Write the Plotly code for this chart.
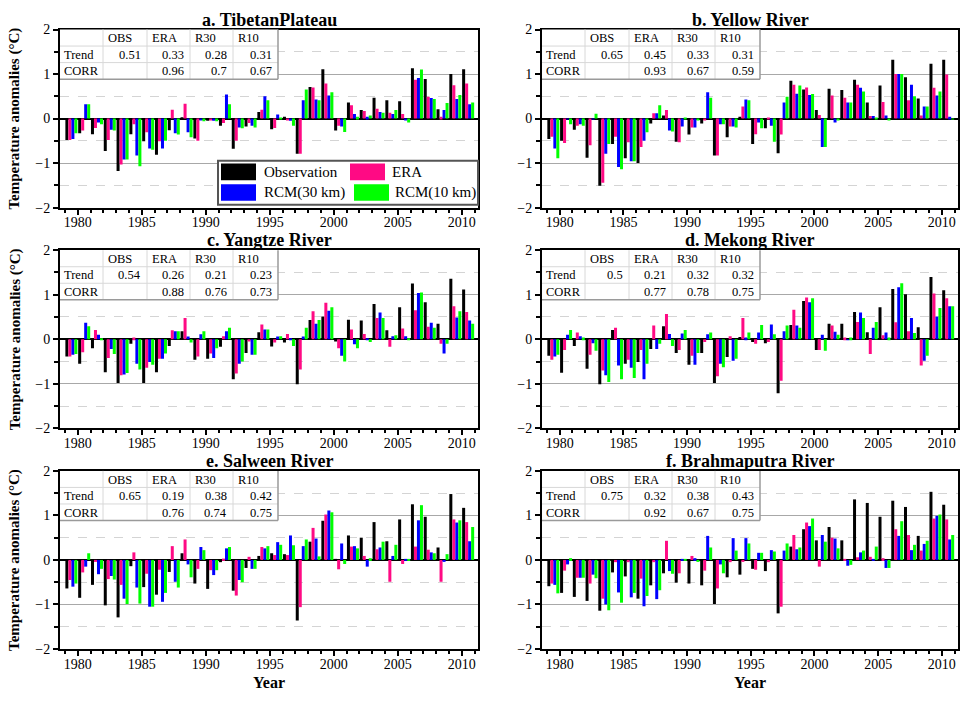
import plotly.graph_objects as go

W, H = 966, 703
years = list(range(1979, 2011))

series_names = ["Observation", "ERA", "RCM(30 km)", "RCM(10 km)"]
series_colors = ["#000000", "#FF0A84", "#0000FF", "#00FF00"]
panel_titles = ["a. TibetanPlateau", "b. Yellow River", "c. Yangtze River",
                "d. Mekong River", "e. Salween River", "f. Brahmaputra River"]
table_cols = ["OBS", "ERA", "R30", "R10"]

# ---- a. Tibetan Plateau ----
a_obs = [-0.48, -0.33, -0.35, -0.73, -1.18, -0.35, -0.51, -0.81, -0.26, 0.03, -0.45, -0.05, -0.16, -0.68, -0.18, 0.15,
         -0.24, 0.04, -0.79, 0.71, 1.11, -0.27, 0.36, 0.19, 0.47, 0.41, 0.39, 1.13, 0.89, 0.21, 1.00, 1.11]
a_era = [-0.48, -0.27, -0.21, -0.48, -1.03, -0.13, -0.31, -0.51, 0.20, 0.33, -0.50, -0.03, -0.10, -0.50, -0.10, 0.20,
         -0.21, -0.03, -0.79, 0.70, 0.79, -0.16, 0.30, 0.17, 0.22, 0.13, 0.10, 0.87, 0.49, 0.04, 0.75, 0.79]
a_r30 = [-0.46, 0.32, -0.09, -0.25, -0.92, -0.83, -0.67, -0.67, -0.33, -0.31, -0.04, -0.05, 0.54, -0.20, -0.16, 0.50,
         0.09, -0.05, 0.41, 0.43, 0.52, -0.18, 0.10, 0.04, 0.15, 0.10, -0.04, 0.91, 0.46, 0.19, 0.44, 0.32]
a_r10 = [-0.33, 0.32, -0.13, -0.27, -0.92, -1.07, -0.70, -0.50, -0.36, -0.42, -0.06, -0.06, 0.32, -0.22, -0.20, 0.41,
         0.02, -0.16, 0.65, 0.41, 0.59, -0.30, 0.04, 0.07, 0.13, 0.19, -0.09, 1.10, 0.44, 0.35, 0.53, 0.36]
a_trend = [0.51, 0.33, 0.28, 0.31]
a_corr = [None, 0.96, 0.7, 0.67]

# ---- b. Yellow River ----
b_obs = [-0.46, -0.50, -0.25, -0.88, -1.51, -0.57, -0.89, -1.00, -0.11, 0.07, -0.52, -0.36, -0.11, -0.83, -0.42, 0.04,
         -0.57, -0.22, -0.78, 0.85, 0.65, 0.19, 0.67, 0.64, 0.87, 0.36, 0.74, 1.32, 0.93, 0.45, 1.23, 1.32]
b_era = [-0.41, -0.55, -0.16, -0.60, -1.44, -0.41, -0.53, -0.64, 0.12, 0.19, -0.53, -0.20, -0.03, -0.83, -0.18, 0.27,
         -0.35, 0.02, -0.36, 0.76, 0.70, 0.08, 0.52, 0.47, 0.76, 0.06, 0.37, 1.00, 0.41, 0.07, 0.69, 0.99]
b_r30 = [-0.67, -0.02, -0.13, -0.02, -0.79, -1.09, -0.96, -0.50, 0.12, -0.27, -0.18, -0.20, 0.59, -0.13, -0.18, 0.43,
         -0.09, -0.16, 0.36, 0.56, 0.53, -0.64, -0.09, 0.36, 0.69, 0.06, 0.07, 1.00, 0.76, 0.27, 0.52, 0.04]
b_r10 = [-0.89, -0.13, -0.16, 0.11, -0.57, -1.14, -0.96, -0.31, 0.30, -0.29, 0.02, -0.04, 0.47, -0.13, -0.20, 0.41,
         -0.22, -0.52, 0.49, 0.74, 0.55, -0.64, -0.03, 0.36, 0.61, 0.02, -0.04, 1.00, 0.50, 0.27, 0.61, -0.01]
b_trend = [0.65, 0.45, 0.33, 0.31]
b_corr = [None, 0.93, 0.67, 0.59]

# ---- c. Yangtze River ----
c_obs = [-0.39, -0.55, -0.20, -0.74, -0.98, -0.10, -0.98, -0.74, -0.15, 0.18, -0.46, -0.44, -0.17, -0.90, -0.31, 0.16,
         -0.16, -0.07, -1.01, 0.43, 0.51, -0.05, 0.44, 0.42, 0.79, 0.20, 0.72, 1.25, 0.83, 0.35, 1.36, 1.12]
c_era = [-0.39, -0.29, 0.21, -0.42, -0.81, 0.04, -0.64, -0.44, 0.20, 0.48, -0.39, -0.32, 0.07, -0.77, -0.05, 0.33,
         -0.07, 0.12, -0.68, 0.63, 0.82, -0.20, 0.22, 0.12, 0.48, -0.17, 0.24, 0.65, 0.28, -0.10, 0.74, 0.61]
c_r30 = [-0.35, 0.37, 0.10, -0.22, -0.79, -0.55, -0.51, -0.44, 0.18, 0.06, 0.11, -0.42, 0.18, -0.55, -0.35, 0.22,
         0.06, 0.01, 0.06, 0.35, 0.64, -0.37, -0.11, 0.01, 0.60, 0.07, 0.07, 1.04, 0.37, -0.32, 0.49, 0.42]
c_r10 = [-0.33, 0.29, 0.01, -0.33, -0.76, -0.68, -0.57, -0.32, 0.18, -0.07, 0.18, -0.20, 0.26, -0.50, -0.35, 0.22,
         0.07, -0.15, 0.26, 0.43, 0.72, -0.50, -0.20, -0.06, 0.48, 0.09, 0.01, 1.05, 0.26, -0.10, 0.63, 0.35]
c_trend = [0.54, 0.26, 0.21, 0.23]
c_corr = [None, 0.88, 0.76, 0.73]

# ---- d. Mekong River ----
d_obs = [-0.37, -0.75, -0.15, -0.66, -1.01, 0.21, -0.55, -0.51, -0.22, 0.29, -0.31, -0.57, -0.31, -0.98, -0.40, 0.05,
         -0.06, -0.09, -1.21, 0.32, 0.86, -0.24, 0.35, 0.35, 0.61, 0.16, 0.72, 1.13, 1.01, 0.27, 1.40, 1.10]
d_era = [-0.46, -0.24, 0.15, -0.35, -0.70, 0.26, -0.46, -0.24, 0.31, 0.57, -0.24, -0.37, -0.06, -0.83, 0.07, 0.48,
         -0.10, -0.06, -0.93, 0.66, 0.94, -0.24, 0.31, 0.04, 0.39, -0.33, 0.09, 0.38, 0.18, -0.59, 1.03, 0.92]
d_r30 = [-0.39, 0.10, 0.07, -0.09, -0.81, -0.59, -0.64, -0.90, -0.22, 0.12, 0.13, -0.57, 0.11, -0.55, -0.48, 0.04,
         0.15, 0.33, 0.18, 0.31, 0.83, 0.10, 0.17, -0.02, 0.60, 0.26, 0.15, 1.17, 0.48, -0.48, 0.51, 0.74]
d_r10 = [-0.35, 0.21, 0.04, -0.26, -0.96, -0.90, -0.87, -0.55, -0.10, -0.15, 0.21, -0.31, 0.15, -0.63, -0.44, 0.15,
         0.32, 0.11, 0.31, 0.26, 0.92, -0.26, 0.10, 0.04, 0.48, 0.39, 0.04, 1.26, 0.14, -0.37, 0.70, 0.74]
d_trend = [0.5, 0.21, 0.32, 0.32]
d_corr = [None, 0.77, 0.78, 0.75]

# ---- e. Salween River ----
e_obs = [-0.64, -0.85, -0.56, -1.02, -1.29, -0.14, -0.61, -0.78, -0.27, 0.15, -0.53, -0.65, -0.05, -0.69, -0.18, 0.09,
         0.15, 0.13, -1.36, 0.41, 0.88, 0.02, 0.55, 0.50, 0.85, 0.42, 0.91, 1.25, 0.97, 0.28, 1.48, 1.17]
e_era = [-0.45, -0.28, -0.03, -0.43, -0.56, 0.17, -0.31, -0.22, 0.31, 0.46, -0.20, -0.23, 0.03, -0.80, 0.07, 0.29,
         0.11, 0.11, -1.06, 0.72, 1.02, -0.21, 0.30, 0.09, 0.24, -0.49, -0.09, 0.30, 0.23, -0.49, 0.91, 0.85]
e_r30 = [-0.60, -0.15, -0.32, -0.36, -0.87, -0.62, -1.05, -0.94, -0.49, -0.10, 0.29, -0.34, 0.26, -0.45, -0.20, 0.26,
         0.40, 0.55, 0.31, 0.48, 1.11, 0.37, 0.31, -0.15, 0.28, 0.09, 0.02, 0.89, 0.17, -0.04, 0.84, 0.42]
e_r10 = [-0.53, 0.15, -0.20, -0.44, -0.99, -0.98, -1.05, -0.74, -0.62, -0.39, 0.22, -0.23, 0.29, -0.50, -0.20, 0.31,
         0.34, 0.33, 0.46, 0.08, 1.07, -0.09, 0.26, 0.04, 0.41, 0.34, 0.02, 1.23, 0.15, 0.13, 0.89, 0.74]
e_trend = [0.65, 0.19, 0.38, 0.42]
e_corr = [None, 0.76, 0.74, 0.75]

# ---- f. Brahmaputra River ----
f_obs = [-0.59, -0.74, -0.83, -0.92, -1.14, -0.28, -0.37, -0.87, -0.57, -0.30, -0.51, -0.53, -0.57, -0.99, -0.39, -0.33,
         -0.20, -0.25, -1.20, 0.30, 0.69, 0.44, 0.74, 0.44, 1.36, 1.28, 0.97, 1.33, 1.19, 0.54, 1.53, 1.24]
f_era = [-0.53, -0.24, -0.40, -0.53, -0.87, -0.05, -0.05, -0.42, -0.05, 0.43, -0.30, 0.09, -0.24, -0.64, -0.05, -0.04,
         -0.22, -0.05, -1.05, 0.56, 0.84, -0.15, 0.50, 0.02, 0.06, 0.07, 0.04, 0.69, 0.56, 0.21, 0.93, 0.91]
f_r30 = [-0.56, -0.10, -0.40, -0.33, -1.00, -0.73, -0.84, -1.04, -0.88, -0.25, 0.02, 0.04, 0.54, -0.10, 0.49, 0.49,
         0.16, 0.22, 0.21, 0.24, 0.76, 0.56, 0.48, -0.13, 0.17, 0.01, -0.18, 0.54, 0.22, 0.36, 0.99, 0.46]
f_r10 = [-0.75, 0.04, -0.40, -0.41, -1.13, -0.96, -0.74, -0.81, -0.68, -0.31, 0.02, -0.04, 0.28, -0.30, 0.21, 0.37,
         0.16, 0.19, 0.37, 0.28, 0.93, 0.41, 0.26, -0.11, 0.21, 0.30, -0.18, 0.87, 0.34, 0.43, 1.02, 0.56]
f_trend = [0.75, 0.32, 0.38, 0.43]
f_corr = [None, 0.92, 0.67, 0.75]

panels = [
    ([a_obs, a_era, a_r30, a_r10], a_trend, a_corr),
    ([b_obs, b_era, b_r30, b_r10], b_trend, b_corr),
    ([c_obs, c_era, c_r30, c_r10], c_trend, c_corr),
    ([d_obs, d_era, d_r30, d_r10], d_trend, d_corr),
    ([e_obs, e_era, e_r30, e_r10], e_trend, e_corr),
    ([f_obs, f_era, f_r30, f_r10], f_trend, f_corr),
]

FONT = "Liberation Serif"
cols_px = [(60, 478), (542, 958)]
rows_px = [(23, 205), (248.5, 430.5), (474, 656)]
# annual means are placed at mid-year (as in the original figure)
bar_x = [y + 0.5 for y in years]
XMIN, XMAX = 1978.61, 2011.27


def px(x):
    return x / W


def py(y):
    return 1 - y / H


fig = go.Figure()
shapes = []
annotations = []

for i, (vals, trend, corr) in enumerate(panels):
    r, c = divmod(i, 2)
    xl, xr = cols_px[c]
    yt, yb = rows_px[r]
    sfx = "" if i == 0 else str(i + 1)
    for name, col, v in zip(series_names, series_colors, vals):
        fig.add_trace(go.Bar(x=bar_x, y=v, name=name, marker=dict(color=col, line=dict(width=0)),
                             xaxis="x" + sfx, yaxis="y" + sfx, showlegend=False))
    fig.layout["xaxis" + sfx] = dict(
        domain=[px(xl), px(xr)], anchor="y" + sfx, range=[XMIN, XMAX],
        tickmode="linear", tick0=1980, dtick=5, ticks="outside", ticklen=5, tickwidth=1.5,
        tickcolor="black", minor=dict(tick0=1980, dtick=1, ticks="outside", ticklen=3, tickcolor="black"),
        showline=True, linecolor="black", linewidth=2, mirror=True, showgrid=False, zeroline=False,
        ticklabelstandoff=-4,
        tickfont=dict(family=FONT, size=14, color="black"))
    fig.layout["yaxis" + sfx] = dict(
        domain=[py(yb), py(yt)], anchor="x" + sfx, range=[-2, 2],
        tickmode="linear", tick0=0, dtick=1, ticks="outside", ticklen=5, tickwidth=1.5, tickcolor="black",
        showgrid=True, gridcolor="#a8a8a8", gridwidth=1,
        minor=dict(tick0=0, dtick=0.5, ticks="outside", ticklen=4, tickcolor="black",
                   showgrid=True, gridcolor="#d4d4d4", griddash="dash", gridwidth=1),
        zeroline=True, zerolinecolor="black", zerolinewidth=2,
        showline=True, linecolor="black", linewidth=2, mirror=True,
        tickfont=dict(family=FONT, size=14, color="black"))

    # panel title
    annotations.append(dict(text="<b>%s</b>" % panel_titles[i], x=px((xl + xr) / 2), y=py(yt - 10),
                            xref="paper", yref="paper", showarrow=False, xanchor="center", yanchor="middle",
                            font=dict(family=FONT, size=18, color="black")))

    # statistics table
    tx = [xl, xl + 43, xl + 87, xl + 130, xl + 173, xl + 218]
    rh = 16.9
    ty = [yt, yt + rh, yt + 2 * rh, yt + 3 * rh]
    shapes.append(dict(type="rect", xref="paper", yref="paper", x0=px(tx[0]), x1=px(tx[-1]),
                       y0=py(ty[-1]), y1=py(ty[0]), fillcolor="white", line=dict(width=0), layer="above"))
    for k in range(1, 5):
        shapes.append(dict(type="line", xref="paper", yref="paper", x0=px(tx[k]), x1=px(tx[k]),
                           y0=py(ty[0]), y1=py(ty[-1]), line=dict(color="#d8d8d8", width=1), layer="above"))
    for k in range(1, 3):
        shapes.append(dict(type="line", xref="paper", yref="paper", x0=px(tx[0]), x1=px(tx[-1]),
                           y0=py(ty[k]), y1=py(ty[k]), line=dict(color="#d8d8d8", width=1), layer="above"))
    shapes.append(dict(type="line", xref="paper", yref="paper", x0=px(tx[-1]), x1=px(tx[-1]),
                       y0=py(ty[0]), y1=py(ty[-1]), line=dict(color="#9a9a9a", width=1.5), layer="above"))
    shapes.append(dict(type="line", xref="paper", yref="paper", x0=px(tx[0]), x1=px(tx[-1]),
                       y0=py(ty[-1]), y1=py(ty[-1]), line=dict(color="#9a9a9a", width=1.5), layer="above"))
    tf = dict(family=FONT, size=12.5, color="black")
    for k, h in enumerate(table_cols):
        annotations.append(dict(text=h, x=px(tx[k + 1] + 3), y=py((ty[0] + ty[1]) / 2 + 0.5), xref="paper",
                                yref="paper", showarrow=False, xanchor="left", yanchor="middle", font=tf))
    annotations.append(dict(text="Trend", x=px(tx[0] + 2), y=py((ty[1] + ty[2]) / 2 + 0.5), xref="paper",
                            yref="paper", showarrow=False, xanchor="left", yanchor="middle", font=tf))
    annotations.append(dict(text="CORR", x=px(tx[0] + 2), y=py((ty[2] + ty[3]) / 2 + 0.5), xref="paper",
                            yref="paper", showarrow=False, xanchor="left", yanchor="middle", font=tf))
    for k in range(4):
        annotations.append(dict(text="%g" % trend[k], x=px(tx[k + 2] - 4), y=py((ty[1] + ty[2]) / 2 + 0.5),
                                xref="paper", yref="paper", showarrow=False, xanchor="right", yanchor="middle",
                                font=tf))
        if corr[k] is not None:
            annotations.append(dict(text="%g" % corr[k], x=px(tx[k + 2] - 4), y=py((ty[2] + ty[3]) / 2 + 0.5),
                                    xref="paper", yref="paper", showarrow=False, xanchor="right",
                                    yanchor="middle", font=tf))

    if c == 0:
        annotations.append(dict(text="<b>Temperature anomalies (°C)</b>", x=px(15), y=py((yt + yb) / 2),
                                xref="paper", yref="paper", showarrow=False, textangle=-90,
                                xanchor="center", yanchor="middle", font=dict(family=FONT, size=15, color="black")))
    if r == 2:
        annotations.append(dict(text="<b>Year</b>", x=px((xl + xr) / 2), y=py(690), xref="paper", yref="paper",
                                showarrow=False, xanchor="center", yanchor="middle",
                                font=dict(family=FONT, size=16, color="black")))

# legend (drawn in panel a)
lx0, lx1, ly0, ly1 = 218, 478, 157, 202
shapes.append(dict(type="rect", xref="paper", yref="paper", x0=px(lx0), x1=px(lx1), y0=py(ly1), y1=py(ly0),
                   fillcolor="white", line=dict(color="#555555", width=2), layer="above"))
leg_pos = [(221, 160, 262), (350, 160, 390), (221, 181, 262), (354, 181, 393)]
for (sx, sy, txx), name, col in zip(leg_pos, series_names, series_colors):
    shapes.append(dict(type="rect", xref="paper", yref="paper", x0=px(sx), x1=px(sx + 35), y0=py(sy + 17),
                       y1=py(sy), fillcolor=col, line=dict(width=0), layer="above"))
    annotations.append(dict(text=name, x=px(txx), y=py(sy + 9), xref="paper", yref="paper", showarrow=False,
                            xanchor="left", yanchor="middle", font=dict(family=FONT, size=15, color="black")))

fig.update_layout(width=W, height=H, margin=dict(l=0, r=0, t=0, b=0), paper_bgcolor="white",
                  plot_bgcolor="white", barmode="group", bargap=0.06, bargroupgap=0,
                  shapes=shapes, annotations=annotations, showlegend=False)
fig.write_html("out.html")
